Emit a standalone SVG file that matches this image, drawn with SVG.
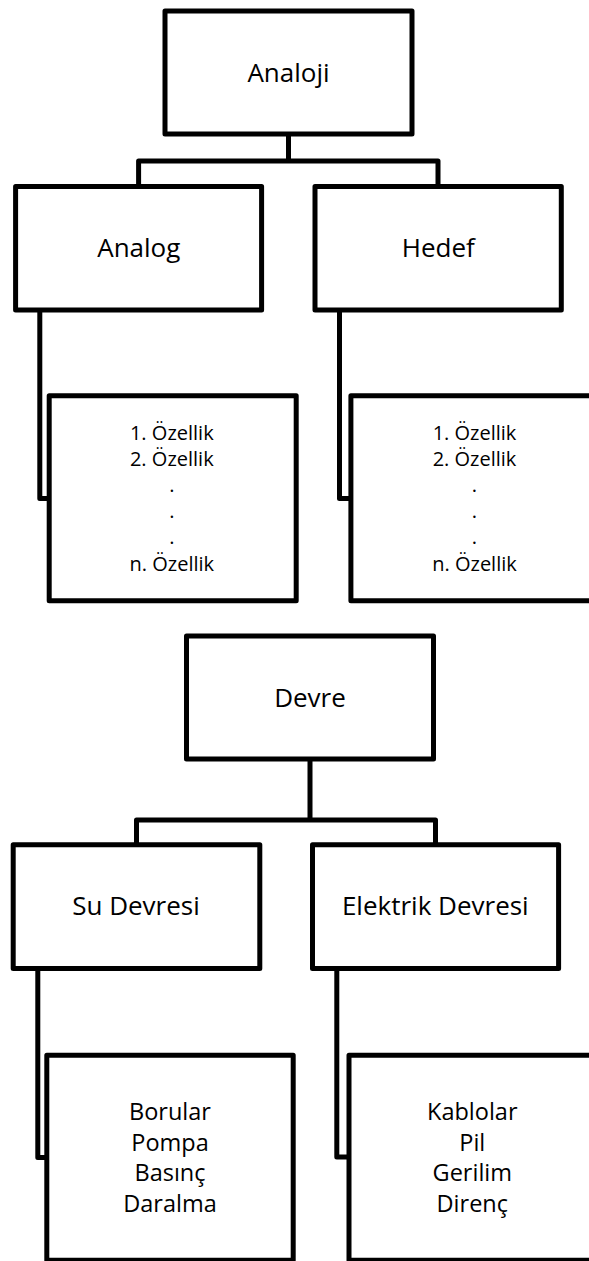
<svg xmlns="http://www.w3.org/2000/svg" width="589" height="1261" viewBox="0 0 589 1261">
<style>
.box{fill:#fff;stroke:#000;stroke-width:5;stroke-linejoin:round}
.con{fill:none;stroke:#000;stroke-width:5;stroke-linejoin:round}
text{font-family:"Open Sans","Noto Sans","Liberation Sans",sans-serif;fill:#000;text-anchor:middle}
.big{font-size:26px}
.mid{font-size:20px}
.low{font-size:23.5px}
</style>
<rect width="589" height="1261" fill="#fff"/>
<g id="connectors">
<path class="con" d="M288.5 134 V161 M138.6 186.5 V161 H438 V186.5"/>
<path class="con" d="M39.8 310 V498.5 H49.2"/>
<path class="con" d="M339.5 310 V498.5 H350.9"/>
<path class="con" d="M310 759 V820 M136.5 844.8 V820 H435.5 V844.8"/>
<path class="con" d="M37.8 968.5 V1157.5 H46.8"/>
<path class="con" d="M336.8 968.5 V1157 H349"/>
</g>
<g id="analoji">
<rect class="box" x="165" y="11" width="247" height="123"/>
<text class="big" x="288.5" y="81.5">Analoji</text>
</g>
<g id="analog">
<rect class="box" x="15.6" y="186.5" width="246" height="123.5"/>
<text class="big" x="138.8" y="257">Analog</text>
</g>
<g id="hedef">
<rect class="box" x="315" y="186.5" width="246.3" height="123.5"/>
<text class="big" x="438.3" y="257">Hedef</text>
</g>
<g id="analog-ozellikler">
<rect class="box" x="49.2" y="395.8" width="247" height="205"/>
<text class="mid" x="171.8" y="440">1. Özellik</text>
<text class="mid" x="171.8" y="466.1">2. Özellik</text>
<text class="mid" x="171.8" y="492.2">.</text>
<text class="mid" x="171.8" y="518.3">.</text>
<text class="mid" x="171.8" y="544.4">.</text>
<text class="mid" x="171.8" y="570.5">n. Özellik</text>
</g>
<g id="hedef-ozellikler">
<rect class="box" x="350.9" y="395.8" width="247" height="205"/>
<text class="mid" x="474.5" y="440">1. Özellik</text>
<text class="mid" x="474.5" y="466.1">2. Özellik</text>
<text class="mid" x="474.5" y="492.2">.</text>
<text class="mid" x="474.5" y="518.3">.</text>
<text class="mid" x="474.5" y="544.4">.</text>
<text class="mid" x="474.5" y="570.5">n. Özellik</text>
</g>
<g id="devre">
<rect class="box" x="186.5" y="636" width="247" height="123"/>
<text class="big" x="310" y="706.7">Devre</text>
</g>
<g id="su-devresi">
<rect class="box" x="13.2" y="844.8" width="246.6" height="123.7"/>
<text class="big" x="136" y="915">Su Devresi</text>
</g>
<g id="elektrik-devresi">
<rect class="box" x="312.5" y="844.8" width="246.1" height="123.7"/>
<text class="big" x="435.3" y="914.6">Elektrik Devresi</text>
</g>
<g id="su-ozellikler">
<rect class="box" x="46.8" y="1055.2" width="246.4" height="205"/>
<text class="low" x="170" y="1120">Borular</text>
<text class="low" x="170" y="1150.6">Pompa</text>
<text class="low" x="170" y="1181.2">Basınç</text>
<text class="low" x="170" y="1211.8">Daralma</text>
</g>
<g id="elektrik-ozellikler">
<rect class="box" x="349" y="1055.2" width="246.5" height="205"/>
<text class="low" x="472.3" y="1120">Kablolar</text>
<text class="low" x="472.3" y="1150.6">Pil</text>
<text class="low" x="472.3" y="1181.2">Gerilim</text>
<text class="low" x="472.3" y="1211.8">Direnç</text>
</g>
</svg>
